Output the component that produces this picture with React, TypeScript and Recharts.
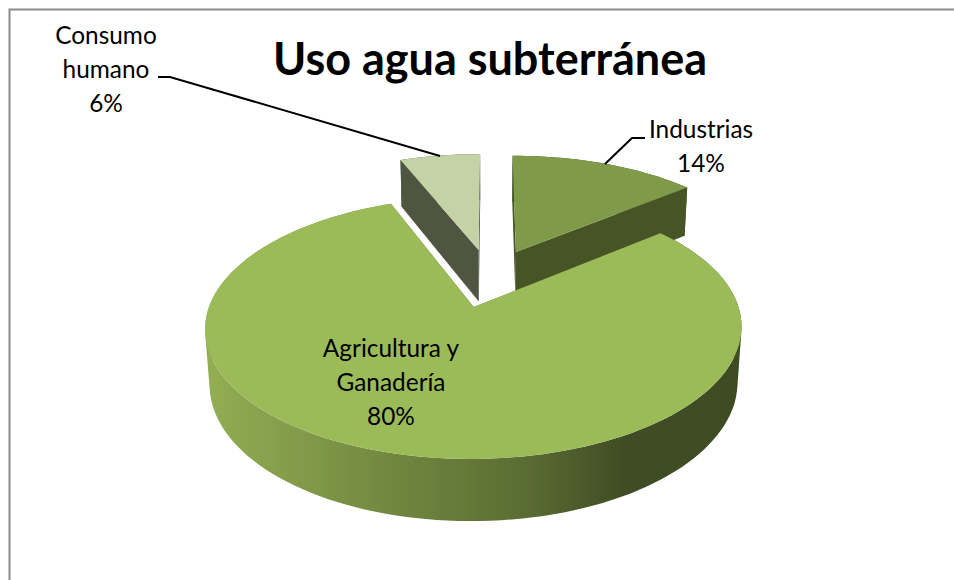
import { Pie, PieChart } from "recharts";

const TITLE = "Uso agua subterránea";
const categories = ["Industrias", "Agricultura y Ganadería", "Consumo humano"];
const values = [14, 80, 6];
const labelLines = [["Industrias"], ["Agricultura y", "Ganadería"], ["Consumo", "humano"]];

const topColors = ["#7F9A48", "#9BBB59", "#C3D3A6"];
const wallColors = ["#475526", "#5F7236", "#4F5541"];
// label centre x, first line y
const labelPos = [
  { x: 701, y: 138 },
  { x: 391, y: 357 },
  { x: 106, y: 44 },
];
const leaders = ["M605 164 L632 138 L645 138", "", "M158 77 L170 77 L440 156"];

// 3D pie projection
const EXPLODE = 0.247;
const PERSPECTIVE = 0.154;
const TILT = 0.4643;
const DEPTH = 54;
const SHRINK = 0.015;

const rad = (d: number) => (d * Math.PI) / 180;

const toPath = (pts: number[][]) =>
  "M" + pts.map((p) => p[0].toFixed(1) + " " + p[1].toFixed(1)).join("L") + "Z";

// keeps every quad wound the same way so the folded silhouette stays filled
const clockwise = (pts: number[][]) => {
  const area = pts.reduce((sum, p, k) => {
    const q = pts[(k + 1) % pts.length];
    return sum + p[0] * q[1] - q[0] * p[1];
  }, 0);
  return area < 0 ? [...pts].reverse() : pts;
};

function SliceShape(props: any) {
  const { cx, cy, outerRadius: R, startAngle, endAngle, midAngle, name } = props;
  const i = categories.indexOf(name);
  const ox = EXPLODE * Math.cos(rad(midAngle));
  const oy = EXPLODE * Math.sin(rad(midAngle));

  const project = (u: number, v: number, z: number) => {
    const w = 1 + PERSPECTIVE * v + SHRINK * z;
    return [cx + (R * u) / w, cy + (-TILT * R * v + DEPTH * z) / w];
  };
  const rim = (a: number, z: number) =>
    project(ox + Math.cos(rad(a)), oy + Math.sin(rad(a)), z);

  const steps = Math.ceil(Math.abs(startAngle - endAngle) / 2);
  const angles = Array.from(
    { length: steps + 1 },
    (_, k) => startAngle + ((endAngle - startAngle) * k) / steps,
  );
  const apexTop = project(ox, oy, 0);
  const apexBottom = project(ox, oy, 1);

  const wallPath = angles
    .slice(1)
    .map((a, k) =>
      toPath(clockwise([rim(angles[k], 0), rim(a, 0), rim(a, 1), rim(angles[k], 1)])),
    )
    .join("");

  const wallFill = i === 1 ? "url(#sideGradient)" : wallColors[i];
  return (
    <g>
      <defs>
        <linearGradient id="sideGradient" gradientUnits="userSpaceOnUse" x1="205" y1="0" x2="741" y2="0">
          <stop offset="0%" stopColor="#93AE54" />
          <stop offset="35%" stopColor="#71873F" />
          <stop offset="60%" stopColor="#5A6C33" />
          <stop offset="78%" stopColor="#404D24" />
          <stop offset="100%" stopColor="#3F4B23" />
        </linearGradient>
      </defs>
      <path d={wallPath} fill={wallFill} />
      <path d={toPath([apexTop, rim(startAngle, 0), rim(startAngle, 1), apexBottom])} fill={wallColors[i]} />
      <path d={toPath([apexTop, rim(endAngle, 0), rim(endAngle, 1), apexBottom])} fill={wallColors[i]} />
      <path d={toPath([apexTop, ...angles.map((a) => rim(a, 0))])} fill={topColors[i]} />
    </g>
  );
}

function SliceLabel(props: any) {
  const i = categories.indexOf(props.name);
  const { x, y } = labelPos[i];
  const lines = [...labelLines[i], values[i] + "%"];
  return (
    <g>
      {leaders[i] && <path d={leaders[i]} fill="none" stroke="#000" strokeWidth={2} />}
      <text x={x} y={y} textAnchor="middle" fontFamily="Lato" fontSize={24.4} fill="#000">
        {lines.map((line, k) => (
          <tspan key={k} x={x} y={y + k * 34}>
            {line}
          </tspan>
        ))}
      </text>
    </g>
  );
}

const tableData = categories.map((name, i) => ({ name, value: values[i] }));

export default function App() {
  return (
    <div style={{ position: "absolute", left: 0, top: 0, width: 954, height: 580, background: "#fff" }}>
      <PieChart width={954} height={580} margin={{ top: 0, right: 0, bottom: 0, left: 0 }}>
        <rect x={9.5} y={9.5} width={960} height={600} fill="#fff" stroke="#8C8C8C" strokeWidth={2} />
        <text x={490} y={75} textAnchor="middle" fontFamily="Lato" fontWeight={700} fontSize={45} fill="#000">
          {TITLE}
        </text>
        <Pie
          data={tableData}
          dataKey="value"
          nameKey="name"
          cx={490}
          cy={277.6}
          outerRadius={255}
          startAngle={90}
          endAngle={-270}
          stroke="none"
          shape={SliceShape}
          label={SliceLabel}
          labelLine={false}
          isAnimationActive={false}
        />
      </PieChart>
    </div>
  );
}
